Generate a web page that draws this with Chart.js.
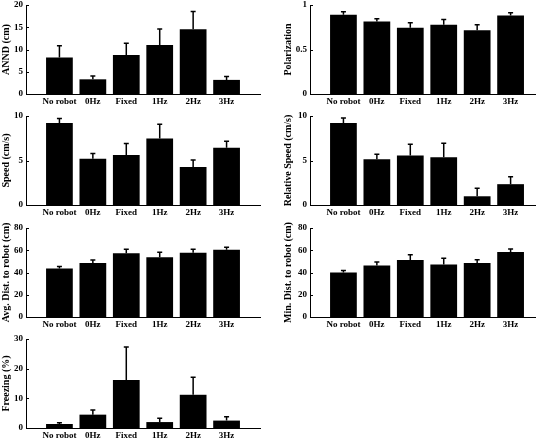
<!DOCTYPE html>
<html>
<head>
<meta charset="utf-8">
<script src="https://cdn.jsdelivr.net/npm/chart.js@4.4.1/dist/chart.umd.min.js"></script>
<style>
html, body { margin: 0; padding: 0; background: #fff; }
body { width: 544px; height: 440px; position: relative; overflow: hidden; }
canvas { position: absolute; }
</style>
</head>
<body>
<script>
// data (mean + upper error)
const categories = ['No robot', '0Hz', 'Fixed', '1Hz', '2Hz', '3Hz'];

const anndMean = [8.2, 3.3, 8.75, 11.0, 14.55, 3.17];
const anndErr = [2.65, 0.75, 2.65, 3.6, 4.0, 0.75];

const polMean = [0.89, 0.815, 0.743, 0.777, 0.717, 0.883];
const polErr = [0.035, 0.03, 0.057, 0.06, 0.06, 0.03];

const speedMean = [9.2, 5.2, 5.62, 7.47, 4.26, 6.42];
const speedErr = [0.53, 0.6, 1.28, 1.59, 0.8, 0.75];

const relSpeedMean = [9.2, 5.13, 5.55, 5.36, 0.98, 2.34];
const relSpeedErr = [0.57, 0.57, 1.28, 1.58, 0.9, 0.83];

const avgDistMean = [43.7, 48.5, 57.2, 53.6, 57.8, 60.5];
const avgDistErr = [1.8, 2.7, 3.6, 4.5, 3.0, 2.1];

const minDistMean = [40.1, 46.4, 51.2, 47.3, 48.5, 58.4];
const minDistErr = [1.8, 3.0, 4.8, 5.4, 3.0, 2.7];

const freezeMean = [1.35, 4.5, 16.2, 2.0, 11.2, 2.5];
const freezeErr = [0.45, 1.6, 11.1, 1.3, 5.9, 1.3];

Chart.defaults.font.family = '"Liberation Serif", "Times New Roman", serif';
Chart.defaults.font.weight = 'bold';
Chart.defaults.font.size = 9;
Chart.defaults.color = '#000';
Chart.defaults.animation = false;

// error bars + inward y tick marks
const errorBars = {
    id: 'errorBars',
    afterDatasetsDraw(chart) {
        const ctx = chart.ctx;
        const xs = chart.scales.x, ys = chart.scales.y;
        const ds = chart.data.datasets[0];
        ctx.save();
        ctx.strokeStyle = '#000';
        ctx.lineWidth = 1.5;
        ds.data.forEach((d, i) => {
            const px = xs.getPixelForValue(d.x);
            const y0 = ys.getPixelForValue(d.y);
            const y1 = ys.getPixelForValue(d.y + ds.err[i]);
            ctx.beginPath();
            ctx.moveTo(px, y0);
            ctx.lineTo(px, y1);
            ctx.moveTo(px - 2.5, y1);
            ctx.lineTo(px + 2.5, y1);
            ctx.stroke();
        });
        ctx.lineWidth = 1;
        const left = chart.chartArea.left;
        ys.ticks.forEach(t => {
            const py = Math.round(ys.getPixelForValue(t.value)) + 0.5;
            ctx.beginPath();
            ctx.moveTo(left, py);
            ctx.lineTo(left + 3, py);
            ctx.stroke();
        });
        ctx.restore();
    }
};

function makePanel(opt) {
    const plotH = 89;
    const c = document.createElement('canvas');
    const w = opt.right ? 262 : 268;
    const h = 10 + plotH + 16;
    c.width = w;
    c.height = h;
    c.style.left = (opt.right ? 282 : 0) + 'px';
    c.style.top = (opt.top - 10) + 'px';
    c.style.width = w + 'px';
    c.style.height = h + 'px';
    document.body.appendChild(c);

    new Chart(c, {
        type: 'bar',
        data: {
            datasets: [{
                data: categories.map((cat, i) => ({ x: i + 1, y: opt.mean[i] })),
                err: opt.err,
                backgroundColor: '#000',
                borderWidth: 0,
                barPercentage: 0.8,
                categoryPercentage: 1
            }]
        },
        options: {
            responsive: false,
            devicePixelRatio: 1,
            layout: { padding: { top: 10, left: 0, bottom: 0, right: opt.right ? 9 : 8 } },
            plugins: { legend: { display: false }, tooltip: { enabled: false } },
            scales: {
                x: {
                    type: 'linear',
                    min: 0,
                    max: opt.right ? 6.73 : 7,
                    offset: false,
                    grid: { display: false, drawTicks: false },
                    border: { display: true, color: '#000', width: 1 },
                    afterBuildTicks: s => { s.ticks = categories.map((cat, i) => ({ value: i + 1 })); },
                    afterFit: s => { s.height = 16; },
                    ticks: {
                        autoSkip: false,
                        maxRotation: 0,
                        padding: 2,
                        callback: v => categories[Math.round(v) - 1]
                    }
                },
                y: {
                    min: 0,
                    max: opt.max,
                    grid: { display: false, drawTicks: false },
                    border: { display: true, color: '#000', width: 1 },
                    afterFit: s => { s.width = opt.right ? 28 : 26; },
                    ticks: { stepSize: opt.step, padding: 3, callback: v => String(v) },
                    title: {
                        display: true,
                        text: opt.title,
                        padding: 0,
                        font: { size: 10, weight: 'bold' }
                    }
                }
            }
        },
        plugins: [errorBars]
    });
}

makePanel({ top: 5, right: false, mean: anndMean, err: anndErr, max: 20, step: 5, title: 'ANND (cm)' });
makePanel({ top: 5, right: true, mean: polMean, err: polErr, max: 1, step: 0.5, title: 'Polarization' });
makePanel({ top: 116, right: false, mean: speedMean, err: speedErr, max: 10, step: 5, title: 'Speed (cm/s)' });
makePanel({ top: 116, right: true, mean: relSpeedMean, err: relSpeedErr, max: 10, step: 5, title: 'Relative Speed (cm/s)' });
makePanel({ top: 228, right: false, mean: avgDistMean, err: avgDistErr, max: 80, step: 20, title: 'Avg. Dist. to robot (cm)' });
makePanel({ top: 228, right: true, mean: minDistMean, err: minDistErr, max: 80, step: 20, title: 'Min. Dist. to robot (cm)' });
makePanel({ top: 339, right: false, mean: freezeMean, err: freezeErr, max: 30, step: 10, title: 'Freezing (%)' });
</script>
</body>
</html>
